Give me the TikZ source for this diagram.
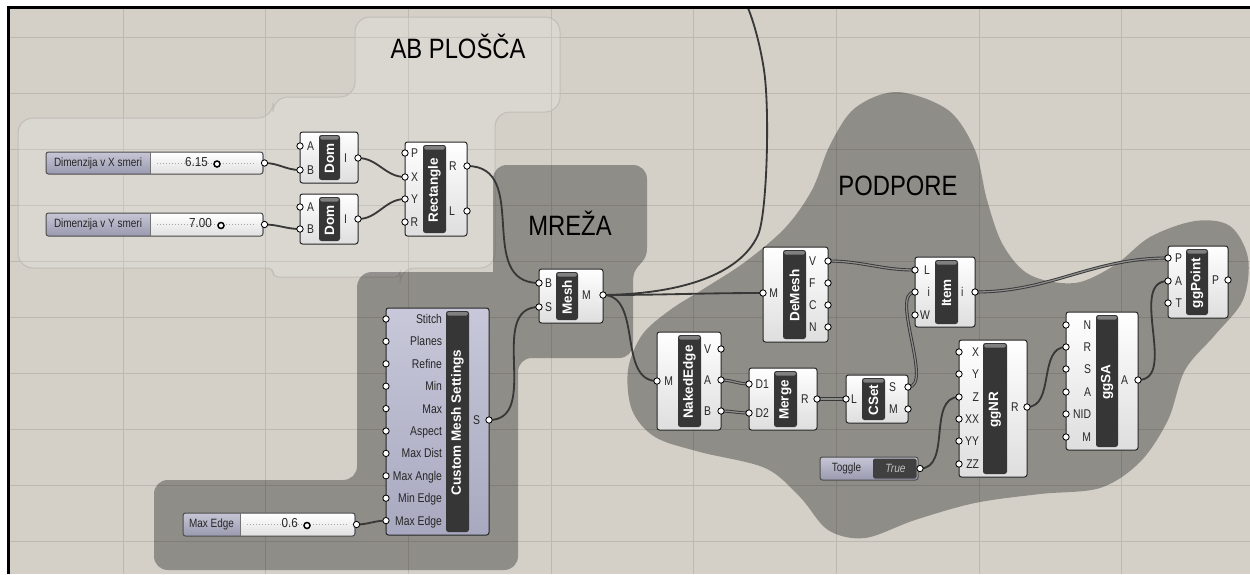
\documentclass[tikz,border=0pt]{standalone}
\usepackage{fontspec}
\setmainfont{Liberation Sans}
\usetikzlibrary{calc}
\pgfdeclarelayer{grp}
\pgfdeclarelayer{wires}
\pgfsetlayers{grp,wires,main}
\definecolor{canvas}{HTML}{D4D0C8}
\definecolor{gridc}{HTML}{BDB9B1}
\definecolor{abline}{HTML}{C2BEB7}
\definecolor{barc}{HTML}{363636}
\definecolor{wirec}{HTML}{383838}
\definecolor{wiremid}{HTML}{8C8C8C}
\definecolor{lavtop}{HTML}{C6C6D6}
\definecolor{lavbot}{HTML}{9A9AB0}
\definecolor{cmstop}{HTML}{C8C8DA}
\definecolor{cmsbot}{HTML}{A8A8C0}
\tikzset{
 every node/.style={inner sep=0pt, outer sep=0pt},
 gridline/.style={draw=gridc, line width=0.6pt},
 abgroup/.style={fill=white, fill opacity=0.16, draw=abline, line width=0.6pt},
 darkgroup/.style={fill=black, fill opacity=0.32},
 grptitle/.style={font=\fontsize{16.8}{18}\selectfont, xscale=0.85, text=black},
 compbox/.style={draw=black!85, line width=0.6pt, rounded corners=1.5pt, top color=white, bottom color=black!13},
 cmsbox/.style={draw=black!85, line width=0.6pt, rounded corners=1.5pt, top color=cmstop, bottom color=cmsbot},
 barfill/.style={fill=barc, rounded corners=1.5pt},
 bartop/.style={fill=black!50, rounded corners=1pt},
 bartext/.style={rotate=90, text=white, font=\bfseries\fontsize{8.1}{9}\selectfont},
 port/.style={circle, draw=black, fill=white, line width=0.5pt, minimum size=3.8pt, inner sep=0pt},
 plabel/.style={text=black!85, font=\fontsize{7.6}{8}\selectfont, xscale=0.82, text height=5.4pt, text depth=0pt},
 wire/.style={draw=wirec, line width=1.1pt},
 lwire/.style={draw=wirec, line width=0.55pt, double=wiremid, double distance=0.75pt},
 slleft/.style={top color=lavtop, bottom color=lavbot, rounded corners=1.5pt},
 slright/.style={top color=white, bottom color=black!12},
 slframe/.style={draw=black!70, line width=0.6pt, rounded corners=1.5pt},
 slsep/.style={draw=black!55, line width=0.5pt},
 sltrack/.style={draw=black!35, line width=0.5pt, dash pattern=on 0.6pt off 1.2pt},
 sltext/.style={text=black!85, font=\fontsize{7.2}{8}\selectfont, xscale=0.83},
 slval/.style={text=black!85, font=\fontsize{7.8}{8}\selectfont, xscale=0.9},
 knob/.style={circle, draw=black, fill=white, line width=0.9pt, minimum size=3.6pt},
 togdark/.style={fill=black!75, rounded corners=1pt},
 togval/.style={text=black!25, font=\itshape\fontsize{7.2}{8}\selectfont, xscale=0.85},
}
\newcommand\ghbox[6][compbox]{%
  \path[#1] (#3,#4) rectangle (#5,#6);
  \coordinate (#2) at ({(#3+#5)/2},{(#4+#6)/2});}
\newcommand\ghbar[6]{%
  \path[barfill] (#2,#3) rectangle (#4,#5);
  \path[bartop] ({#2+1},{#3+1}) rectangle ({#4-1},{#3+4.5});
  \node[bartext] (#1) at ({(#2+#4)/2},{(#3+#5)/2+1}) {#6};}
\newcommand\ipin[5]{%
  \node[port] (#1) at (#2,#3) {};
  \node[plabel,anchor=east] (#1-t) at (#4,#3) {#5};}
\newcommand\opin[5]{%
  \node[port] (#1) at (#2,#3) {};
  \node[plabel,anchor=west] (#1-t) at (#4,#3) {#5};}
\newcommand\ghslider[9]{%
  \pgfmathsetmacro\slmid{(#3+#5)/2}
  \path[slleft] (#2,#3) rectangle (#4,#5);
  \path[slright] (#6,{#3+0.8}) rectangle ({#4-0.8},{#5-0.8});
  \draw[slframe] (#2,#3) rectangle (#4,#5);
  \draw[slsep] (#6,#3) -- (#6,#5);
  \draw[sltrack] ({#6+7},\slmid) -- ({#4-7},\slmid);
  \node[sltext] (#1-l) at ({(#2+#6)/2},\slmid) {#7};
  \node[slval, anchor=east] (#1-v) at ({#9-9},{\slmid-1}) {#8};
  \node[knob] (#1-k) at (#9,{\slmid+1}) {};
  \node[port] (#1-o) at ({#4+1.5},\slmid) {};}
\newcommand\ghtoggle[6]{%
  \pgfmathsetmacro\slmid{(#3+#5)/2}
  \path[slleft] (#2,#3) rectangle (#4,#5);
  \path[togdark] (#6,{#3+1.5}) rectangle ({#4-1.5},{#5-1.5});
  \draw[slframe] (#2,#3) rectangle (#4,#5);
  \node[sltext] (#1-l) at ({(#2+#6)/2},\slmid) {Toggle};
  \node[togval] (#1-v) at ({(#6+#4)/2},\slmid) {True};
  \node[port] (#1-o) at ({#4+2},\slmid) {};}
\begin{document}
\begin{tikzpicture}[x=0.6pt,y=-0.6pt]
\useasboundingbox (0,0) rectangle (1250,574);
\begin{pgfonlayer}{grp}
\fill[white] (0,0) rectangle (1250,574);
\fill[canvas] (9,8) rectangle (1250,574);
\foreach \gx in {0,...,7} \draw[gridline] ({123+142.7*\gx},8) -- ({123+142.7*\gx},574);
\foreach \gy in {0,...,9} \draw[gridline] (9,{37+56*\gy}) -- (1250,{37+56*\gy});
% AB PLOSCA group
\path[abgroup, rounded corners=9] (150,118) -- (273,118) -- (273,97) -- (355,97) -- (355,17) -- (560,17) -- (560,112) -- (495,112) -- (495,268) -- (400,268) [rounded corners=3] -- (400,277) -- (273,277) -- (273,268) [rounded corners=9] -- (18,268) -- (18,118) -- cycle;
% MREZA + mesh settings group
\path[darkgroup] (570,165) -- (633,165) .. controls (641,165) and (647,171) .. (647,179) -- (647,248) .. controls (647,266) and (633,262) .. (633,282) -- (633,344) .. controls (633,352) and (627,358) .. (619,358) -- (532,358) .. controls (524,358) and (518,364) .. (518,372) -- (518,556) .. controls (518,564) and (512,570) .. (504,570) -- (168,570) .. controls (160,570) and (154,564) .. (154,556) -- (154,494) .. controls (154,486) and (160,480) .. (168,480) -- (343,480) .. controls (351,480) and (357,474) .. (357,466) -- (357,288) .. controls (357,279) and (363,272) .. (372,272) -- (493,272) -- (493,179) .. controls (493,171) and (499,165) .. (507,165) -- cycle;
% PODPORE group
\path[darkgroup] plot[smooth cycle, tension=0.55] coordinates {(897,92) (948,110) (975,150) (987,200) (1003,245) (1030,275) (1075,283) (1115,265) (1150,237) (1195,221) (1230,226) (1248,258) (1243,300) (1215,335) (1185,370) (1168,420) (1140,462) (1100,488) (1040,494) (975,503) (915,520) (865,538) (828,530) (800,497) (765,468) (700,452) (655,437) (632,410) (628,370) (642,335) (670,310) (705,288) (745,262) (785,228) (812,190) (830,145) (855,108)};
\end{pgfonlayer}
% group titles
\node[grptitle] (tAB) at (458,46) {AB PLOŠČA};
\node[grptitle] (tMR) at (570,223) {MREŽA};
\node[grptitle] (tPD) at (898,186) {PODPORE};
% sliders
\ghslider{sx}{46}{152}{263}{174}{150}{Dimenzija v X smeri}{6.15}{217}
\ghslider{sy}{46}{213}{263}{236}{150}{Dimenzija v Y smeri}{7.00}{221}
\ghslider{sme}{183}{513}{355}{536}{240}{Max Edge}{0.6}{307}
\ghtoggle{tog}{820}{457}{918}{480}{873}
% Dom 1
\ghbox{dom1}{300}{132}{358}{183}
\ghbar{dom1b}{319}{135}{340}{180}{Dom}
\ipin{dom1-A}{300}{146}{314}{A}
\ipin{dom1-B}{300}{170}{314}{B}
\opin{dom1-o}{358}{158}{344}{I}
% Dom 2
\ghbox{dom2}{300}{194}{358}{244}
\ghbar{dom2b}{319}{197}{340}{241}{Dom}
\ipin{dom2-A}{300}{207}{314}{A}
\ipin{dom2-B}{300}{229}{314}{B}
\opin{dom2-o}{358}{219}{344}{I}
% Rectangle
\ghbox{rect}{405}{142}{467}{236}
\ghbar{rectb}{423}{145}{446}{233}{Rectangle}
\ipin{rect-P}{405}{153}{418}{P}
\ipin{rect-X}{405}{177}{418}{X}
\ipin{rect-Y}{405}{199}{418}{Y}
\ipin{rect-R}{405}{222}{418}{R}
\opin{rect-oR}{467}{166}{449}{R}
\opin{rect-oL}{467}{211}{449}{L}
% Mesh
\ghbox{mesh}{539}{269}{603}{323}
\ghbar{meshb}{556}{272}{578}{320}{Mesh}
\ipin{mesh-B}{539}{283}{552}{B}
\ipin{mesh-S}{539}{307}{552}{S}
\opin{mesh-M}{603}{295}{582}{M}
% Custom Mesh Settings
\ghbox[cmsbox]{cms}{386}{308}{489}{535}
\ghbar{cmsb}{446}{311}{469}{532}{Custom Mesh Settings}
\ipin{cms-St}{386}{319}{442}{Stitch}
\ipin{cms-Pl}{386}{341.4}{442}{Planes}
\ipin{cms-Rf}{386}{363.8}{442}{Refine}
\ipin{cms-Mi}{386}{386.2}{442}{Min}
\ipin{cms-Ma}{386}{408.6}{442}{Max}
\ipin{cms-As}{386}{431}{442}{Aspect}
\ipin{cms-MD}{386}{453.4}{442}{Max Dist}
\ipin{cms-MA}{386}{475.8}{442}{Max Angle}
\ipin{cms-mE}{386}{498.2}{442}{Min Edge}
\ipin{cms-ME}{386}{520.6}{442}{Max Edge}
\opin{cms-S}{489}{420}{473}{S}
% DeMesh
\ghbox{dem}{763}{247}{828}{342}
\ghbar{demb}{783}{250}{806}{339}{DeMesh}
\ipin{dem-M}{763}{293}{778}{M}
\opin{dem-V}{828}{261}{809}{V}
\opin{dem-F}{828}{283}{809}{F}
\opin{dem-C}{828}{305}{809}{C}
\opin{dem-N}{828}{327}{809}{N}
% Item
\ghbox{item}{915}{257}{975}{327}
\ghbar{itemb}{935}{260}{958}{324}{Item}
\ipin{item-L}{915}{270}{930}{L}
\ipin{item-i}{915}{292}{930}{i}
\ipin{item-W}{915}{315}{930}{W}
\opin{item-o}{975}{292}{961}{i}
% NakedEdge
\ghbox{nak}{657}{332}{721}{430}
\ghbar{nakb}{678}{335}{701}{427}{NakedEdge}
\ipin{nak-M}{657}{381}{673}{M}
\opin{nak-V}{721}{349}{704}{V}
\opin{nak-A}{721}{380}{704}{A}
\opin{nak-B}{721}{411}{704}{B}
% Merge
\ghbox{mrg}{749}{368}{817}{430}
\ghbar{mrgb}{774}{371}{797}{427}{Merge}
\ipin{mrg-D1}{749}{384}{769}{D1}
\ipin{mrg-D2}{749}{413}{769}{D2}
\opin{mrg-o}{817}{399}{801}{R}
% CSet
\ghbox{cset}{846}{375}{908}{423}
\ghbar{csetb}{862}{378}{885}{420}{CSet}
\ipin{cset-L}{846}{399}{857}{L}
\opin{cset-S}{908}{387}{889}{S}
\opin{cset-M}{908}{409}{889}{M}
% ggNR
\ghbox{ggnr}{959}{340}{1027}{477}
\ghbar{ggnrb}{983}{343}{1007}{474}{ggNR}
\ipin{ggnr-X}{959}{352}{979}{X}
\ipin{ggnr-Y}{959}{374}{979}{Y}
\ipin{ggnr-Z}{959}{397}{979}{Z}
\ipin{ggnr-XX}{959}{419}{979}{XX}
\ipin{ggnr-YY}{959}{441}{979}{YY}
\ipin{ggnr-ZZ}{959}{464}{979}{ZZ}
\opin{ggnr-o}{1027}{407}{1011}{R}
% ggSA
\ghbox{ggsa}{1066}{312}{1138}{450}
\ghbar{ggsab}{1096}{315}{1118}{447}{ggSA}
\ipin{ggsa-N}{1066}{325}{1091}{N}
\ipin{ggsa-R}{1066}{347}{1091}{R}
\ipin{ggsa-S}{1066}{369}{1091}{S}
\ipin{ggsa-A}{1066}{392}{1091}{A}
\ipin{ggsa-NID}{1066}{414}{1091}{NID}
\ipin{ggsa-M}{1066}{437}{1091}{M}
\opin{ggsa-o}{1138}{380}{1121}{A}
% ggPoint
\ghbox{ggpt}{1168}{246}{1228}{318}
\ghbar{ggptb}{1186}{249}{1208}{315}{ggPoint}
\ipin{ggpt-P}{1168}{258}{1182}{P}
\ipin{ggpt-A}{1168}{281}{1182}{A}
\ipin{ggpt-T}{1168}{303}{1182}{T}
\opin{ggpt-o}{1228}{280}{1212}{P}
% wires
\coordinate (wtop) at (748,8);
\begin{pgfonlayer}{wires}
\draw[wire] (sx-o.center) to[out=0,in=180] (dom1-B.center);
\draw[wire] (sy-o.center) to[out=0,in=180] (dom2-B.center);
\draw[wire] (dom1-o.center) to[out=0,in=180] (rect-X.center);
\draw[wire] (dom2-o.center) to[out=0,in=180] (rect-Y.center);
\draw[wire] (rect-oR.center) to[out=0,in=180,looseness=1.2] (mesh-B.center);
\draw[wire] (cms-S.center) to[out=0,in=180,looseness=1.1] (mesh-S.center);
\draw[wire] (sme-o.center) to[out=0,in=180] (cms-ME.center);
\draw[wire] (mesh-M.center) to[out=0,in=180] (dem-M.center);
\draw[wire] (mesh-M.center) to[out=0,in=180] (nak-M.center);
\draw[wire] (mesh-M.center) .. controls (680,294) and (740,275) .. (758,235) .. controls (767,215) and (770,110) .. (764,70) .. controls (761,50) and (755,25) .. (wtop);
\draw[lwire] (dem-V.center) to[out=0,in=180] (item-L.center);
\draw[lwire] (item-o.center) to[out=0,in=180] (ggpt-P.center);
\draw[lwire] (cset-S.center) to[out=0,in=180,looseness=0.7] (item-i.center);
\draw[lwire] (nak-A.center) to[out=0,in=180] (mrg-D1.center);
\draw[lwire] (nak-B.center) to[out=0,in=180] (mrg-D2.center);
\draw[lwire] (mrg-o.center) to[out=0,in=180] (cset-L.center);
\draw[wire] (tog-o.center) to[out=0,in=180] (ggnr-Z.center);
\draw[wire] (ggnr-o.center) to[out=0,in=180] (ggsa-R.center);
\draw[wire] (ggsa-o.center) to[out=0,in=180] (ggpt-A.center);
\end{pgfonlayer}
% frame
\draw[black, line width=1.3pt] (8.5,574) -- (8.5,7.5) -- (1250,7.5);
\end{tikzpicture}
\end{document}
